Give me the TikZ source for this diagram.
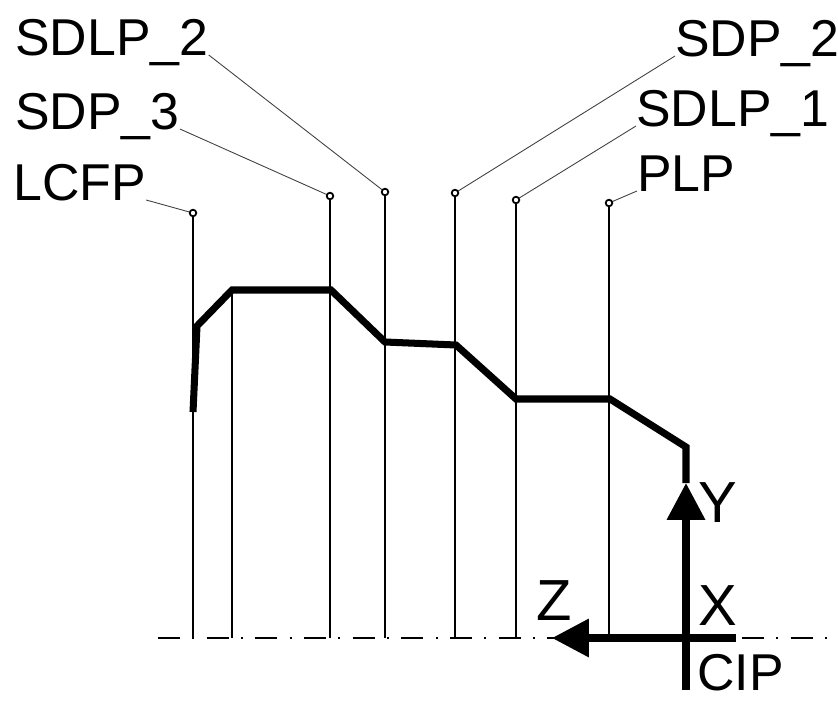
\documentclass[tikz,border=0pt]{standalone}
\usepackage{fontspec}
\setmainfont{Liberation Sans}
\usetikzlibrary{arrows.meta}

\tikzset{
	point label/.style = {anchor = base west, inner sep = 0pt, font = \fontsize{29.5}{35}\selectfont},
	axis label/.style = {anchor = base west, inner sep = 0pt, font = \fontsize{33}{39}\selectfont},
	leader/.style = {line width = 0.5pt, black!75},
	ordinate/.style = {line width = 1.4pt},
	profile/.style = {line width = 4pt, line join = miter},
	axis line/.style = {line width = 4pt},
	centre line/.style = {line width = 1.2pt, dash pattern = on 12.5pt off 7pt on 1.2pt off 7pt}
}

\begin{document}
\begin{tikzpicture}[x = 0.02cm, y = -0.02cm]
		\useasboundingbox (0,0) rectangle (838,700);
		
		\def\pinr{3.3};
		
		\coordinate (axis left) at (158,638);
		\coordinate (axis right) at (838,638);
		\coordinate (CIP) at (686,638);
		
		%labels
		\node [point label] (SDLP 2 label) at (15,55) {SDLP\_2};
		\node [point label] (SDP 3 label) at (15,129) {SDP\_3};
		\node [point label] (LCFP label) at (13,200) {LCFP};
		\node [point label] (SDP 2 label) at (675,56) {SDP\_2};
		\node [point label] (SDLP 1 label) at (636,126) {SDLP\_1};
		\node [point label] (PLP label) at (637,191) {PLP};
		
		%points
		\coordinate (LCFP pin) at (193,213);
		\coordinate (SDP 3 pin) at (330,196);
		\coordinate (SDLP 2 pin) at (385,192);
		\coordinate (SDP 2 pin) at (455,193);
		\coordinate (SDLP 1 pin) at (516,200);
		\coordinate (PLP pin) at (609,203);
		
		%profile
		\coordinate (p1) at (193,412);
		\coordinate (p2) at (197,326);
		\coordinate (p3) at (232,290);
		\coordinate (p4) at (331,290);
		\coordinate (p5) at (385,342);
		\coordinate (p6) at (456,345);
		\coordinate (p7) at (516,399);
		\coordinate (p8) at (610,399);
		\coordinate (p9) at (686,447);
		\coordinate (Y tip) at (686,483);
		\coordinate (Z tip) at (552,638);
		
		\draw [centre line] (axis left) -- (axis right);
		
		\foreach \p in {LCFP, SDP 3, SDLP 2, SDP 2, SDLP 1, PLP}
			\draw [ordinate] (\p\space pin) -- (\p\space pin |- axis left);
		\draw [ordinate] (p3) -- (p3 |- axis left);
		
		\draw [leader] (SDLP 2 label.base east) -- (SDLP 2 pin);
		\draw [leader] (SDP 3 label.base east) -- (SDP 3 pin);
		\draw [leader] (LCFP label.base east) -- (LCFP pin);
		\draw [leader] (SDP 2 label.base west) -- (SDP 2 pin);
		\draw [leader] (SDLP 1 label.base west) -- (SDLP 1 pin);
		\draw [leader] (PLP label.base west) -- (PLP pin);
		
		\foreach \p in {LCFP, SDP 3, SDLP 2, SDP 2, SDLP 1, PLP}
			\draw [line width = 1pt, fill = white] (\p\space pin) circle [radius = \pinr];
		
		\draw [profile] (p1) -- (p2) -- (p3) -- (p4) -- (p5) -- (p6) -- (p7) -- (p8) -- (p9) -- (Y tip);
		
		%axes
		\draw [axis line, -{Triangle[length = 21pt, width = 21pt]}] (CIP) ++(0,52) -- (Y tip);
		\draw [axis line, -{Triangle[length = 21pt, width = 21pt]}] (CIP) ++(50,0) -- (Z tip);
		
		\node [axis label] (Y label) at (698,522) {Y};
		\node [axis label] (X label) at (698,625) {X};
		\node [axis label] (Z label) at (536,620) {Z};
		\node [point label] (CIP label) at (697,690) {CIP};
\end{tikzpicture}
\end{document}
